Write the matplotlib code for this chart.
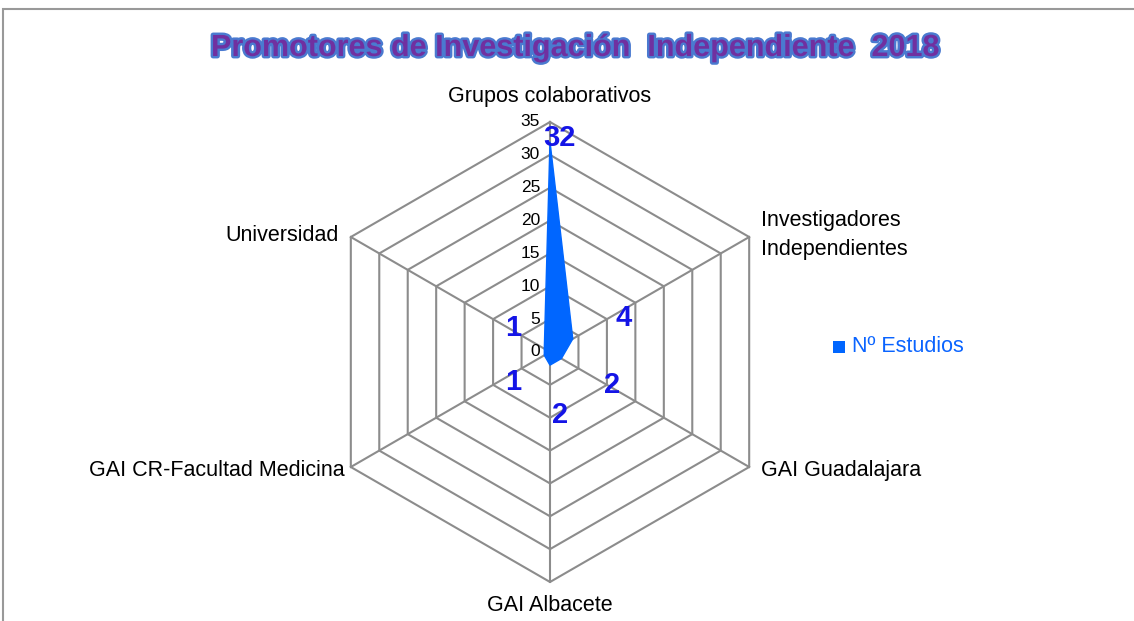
import matplotlib.pyplot as plt
import matplotlib.patheffects as pe
from matplotlib.patches import Rectangle, Polygon
import numpy as np

# data
categories = ['Grupos colaborativos', 'Investigadores\nIndependientes', 'GAI Guadalajara',
              'GAI Albacete', 'GAI CR-Facultad Medicina', 'Universidad']
estudios = [32, 4, 2, 2, 1, 1]
ticks = [0, 5, 10, 15, 20, 25, 30, 35]
title = 'Promotores de Investigación  Independiente  2018'
serie = 'Nº Estudios'

plt.rcParams['font.family'] = ['Liberation Sans Narrow', 'Liberation Sans', 'DejaVu Sans']

W, H = 1134, 621
fig = plt.figure(figsize=(W / 100, H / 100), dpi=100)
ax = fig.add_axes([0, 0, 1, 1])
rmax = 35
s = 230 / rmax  # px per unit
cx, cy = 550, 352
ax.set_xlim(-cx / s, (W - cx) / s)
ax.set_ylim(-(H - cy) / s, cy / s)
ax.axis('off')

n = len(categories)
ang = np.deg2rad(90 - 60 * np.arange(n))
grid_c = '#8c8c8c'

# hexagon rings + spokes
for t in ticks[1:]:
    xs = t * np.cos(ang)
    ys = t * np.sin(ang)
    ax.plot(np.r_[xs, xs[0]], np.r_[ys, ys[0]], color=grid_c, lw=1.5, zorder=1)
for a in ang:
    ax.plot([0, rmax * np.cos(a)], [0, rmax * np.sin(a)], color=grid_c, lw=1.5, zorder=1)

# series
v = np.array(estudios, dtype=float)
ax.add_patch(Polygon(np.c_[v * np.cos(ang), v * np.sin(ang)], closed=True,
                     facecolor='#0066ff', edgecolor='#0066ff', lw=1, zorder=2))

# tick labels along top spoke
for t in ticks:
    ax.text(-10 / s, t, str(t), ha='right', va='center', fontsize=12.5, color='black')

# data labels
for val, a in zip(estudios, ang):
    r = val + 1.0 if val > 20 else val + 7.2
    ax.text(r * np.cos(a) + 1.5, r * np.sin(a) - 0.4, str(val), ha='center', va='center',
            fontsize=21, fontweight='bold', color='#1414e6', zorder=3)

# category labels
lab_pos = [
    (0, rmax + 3.9, 'center', 'center'),
    (rmax * np.cos(ang[1]) + 12 / s, rmax * np.sin(ang[1]) + 0.3, 'left', 'center'),
    (rmax * np.cos(ang[2]) + 12 / s, rmax * np.sin(ang[2]) - 0.5, 'left', 'center'),
    (0, -rmax - 3.6, 'center', 'center'),
    (rmax * np.cos(ang[4]) - 6 / s, rmax * np.sin(ang[4]) - 0.5, 'right', 'center'),
    (rmax * np.cos(ang[5]) - 12 / s, rmax * np.sin(ang[5]) + 0.3, 'right', 'center'),
]
for lab, (x, y, ha, va) in zip(categories, lab_pos):
    ax.text(x, y, lab, ha=ha, va=va, fontsize=15.5, color='black', linespacing=1.5)

# legend
ax.add_patch(Rectangle(((833 - cx) / s, (cy - 353) / s), 12 / s, 12 / s,
                       facecolor='#0066ff', edgecolor='none'))
ax.text((852 - cx) / s, (cy - 347) / s, serie, ha='left', va='center',
        fontsize=15.5, color='#0a64ff')

# title
fig.text(575 / W, 1 - 48 / H, title, ha='center', va='center', fontsize=22,
         fontweight='bold', color='#7030a0',
         path_effects=[pe.Stroke(linewidth=3.5, foreground='#4a7ad0'), pe.Normal()])

# frame (cropped at right and bottom)
fig.patches.append(Rectangle((3 / W, -0.1), 1.2, 1 - 9 / H + 0.1, transform=fig.transFigure,
                             fill=False, edgecolor='#999999', lw=1.5))

fig.savefig('out.png', dpi=100)
